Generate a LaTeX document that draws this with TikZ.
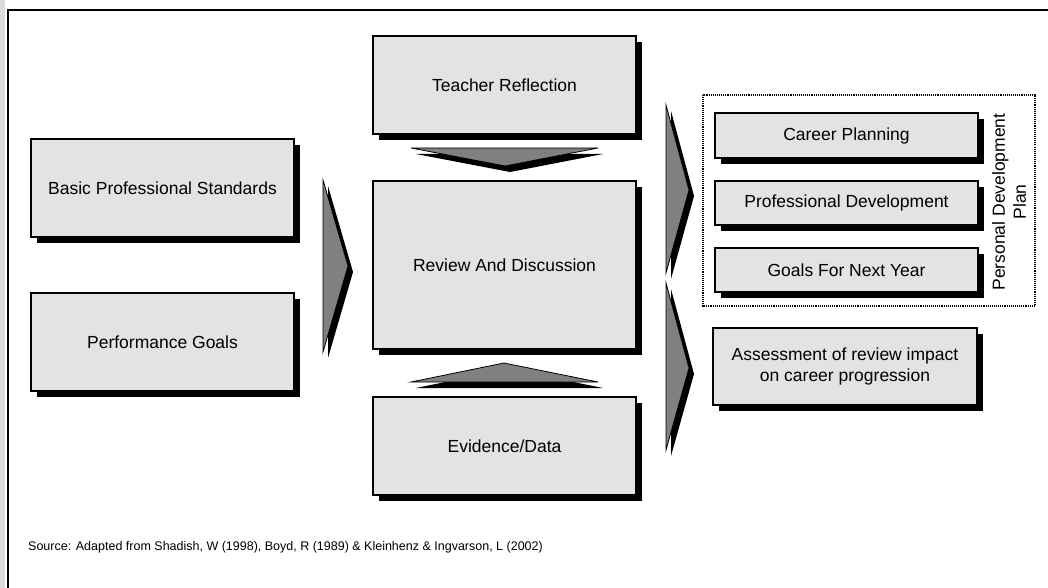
\documentclass[tikz,border=0pt]{standalone}
\usepackage{fontspec}
\setmainfont{Liberation Sans}
\usetikzlibrary{shadows}
\definecolor{boxgray}{gray}{0.89}
\definecolor{arrowgray}{gray}{0.5}
\definecolor{stripgray}{gray}{0.86}
\begin{document}
\begin{tikzpicture}[x=1pt,y=-1pt,
  stage/.style={draw=black, line width=1.1pt, fill=boxgray, rectangle,
    inner sep=0pt, align=center,
    font=\fontsize{17.5}{21}\selectfont,
    drop shadow={shadow xshift=6pt, shadow yshift=-6pt, fill=black, opacity=1}},
  blockarrow/.style={draw=black, line width=0.8pt, fill=arrowgray},
  arrowshadow/.style={fill=black},
  plangroup/.style={draw=black, line width=1.1pt, densely dotted},
]
\useasboundingbox (0,0) rectangle (1048,588);
% page edge and frame
\fill[stripgray] (0,0) rectangle (5,588);
\draw[line width=1.5pt] (8,588) -- (8,10) -- (1048,10);

% stage boxes
\node[stage, minimum width=263pt, minimum height=98pt] (bps) at (162.5,188) {Basic Professional Standards};
\node[stage, minimum width=263pt, minimum height=98pt] (pg) at (162.5,342) {Performance Goals};
\node[stage, minimum width=263pt, minimum height=98pt] (tr) at (504.5,85) {Teacher Reflection};
\node[stage, minimum width=263pt, minimum height=168pt] (rd) at (504.5,265) {Review And Discussion};
\node[stage, minimum width=263pt, minimum height=98pt] (ed) at (504.5,446) {Evidence/Data};
\node[stage, minimum width=263pt, minimum height=45pt] (cp) at (846.5,135.5) {Career Planning};
\node[stage, minimum width=263pt, minimum height=44pt] (pd) at (846.5,203) {Professional Development};
\node[stage, minimum width=263pt, minimum height=44pt] (gy) at (846.5,270) {Goals For Next Year};
\node[stage, minimum width=264pt, minimum height=77pt] (as) at (845,366.5) {Assessment of review impact\\on career progression};

% personal development plan group
\draw[plangroup] (703,95) rectangle (1035,306);
\node[rotate=90, align=center, font=\fontsize{17.5}{21}\selectfont, inner sep=0pt] (pdp) at (1009,202) {Personal Development\\Plan};

% block arrows: black shadow first, grey arrow on top
\fill[arrowshadow] (328,186) -- (353,272) -- (328,358) -- cycle;
\draw[blockarrow] (323,180) -- (348,266) -- (323,352) -- cycle;

\fill[arrowshadow] (416,154) -- (603,154) -- (510,172) -- cycle;
\draw[blockarrow] (411,148) -- (598,148) -- (505,166) -- cycle;

\fill[arrowshadow] (416,388) -- (603,388) -- (509,369) -- cycle;
\draw[blockarrow] (411,382) -- (598,382) -- (504,363) -- cycle;

\fill[arrowshadow] (671,111) -- (694,196) -- (671,279) -- cycle;
\draw[blockarrow] (666,105) -- (689,190) -- (666,273) -- cycle;

\fill[arrowshadow] (671,289) -- (694,374) -- (671,456) -- cycle;
\draw[blockarrow] (666,283) -- (689,368) -- (666,450) -- cycle;

% source line
\node[anchor=base west, inner sep=0pt, font=\fontsize{12.5}{15}\selectfont] (src) at (28,550)
  {Source: Adapted from Shadish, W (1998), Boyd, R (1989) \& Kleinhenz \& Ingvarson, L (2002)};
\end{tikzpicture}
\end{document}
